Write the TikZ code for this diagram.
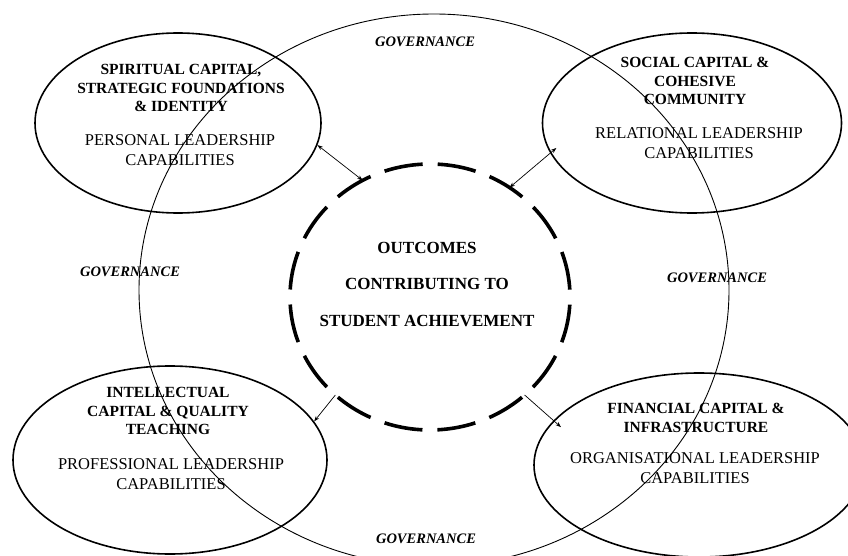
\documentclass[tikz,border=0pt]{standalone}
\usepackage{fontspec}
\setmainfont{Liberation Serif}
\usetikzlibrary{shapes.geometric, arrows.meta}

\begin{document}
\begin{tikzpicture}[x = 1pt, y = -1pt,
        capital/.style = {ellipse, draw, line width = 1.6pt, inner sep = 0pt},
        title/.style = {align = center, font = \bfseries\fontsize{15.5}{18.5}\selectfont},
        lead/.style = {align = center, font = \fontsize{16.5}{20.5}\selectfont},
        gov/.style = {font = \bfseries\itshape\fontsize{14.5}{17}\selectfont},
        link/.style = {line width = 0.7pt, {Stealth[length = 5.5pt, width = 4pt]}-{Stealth[length = 5.5pt, width = 4pt]}},
        outlink/.style = {line width = 0.7pt, -{Stealth[length = 5.5pt, width = 4pt]}}]

    \useasboundingbox (0, 0) rectangle (848, 556);

    % governance ring
    \node [ellipse, draw, line width = 0.9pt, inner sep = 0pt,
        minimum width = 590pt, minimum height = 552pt] (govring) at (434, 290) {};

    % the four capitals
    \node [capital, minimum width = 286pt, minimum height = 180pt] (spirit) at (178, 123) {};
    \node [capital, minimum width = 299pt, minimum height = 180pt] (social) at (692, 123) {};
    \node [capital, minimum width = 314pt, minimum height = 188pt] (intellect) at (170, 460) {};
    \node [capital, minimum width = 330pt, minimum height = 184pt] (finance) at (699, 465) {};

    % outcomes
    \node [ellipse, inner sep = 0pt, outer sep = 0pt,
        minimum width = 280pt, minimum height = 266pt] (outcomes) at (430, 297) {};
    \draw [line width = 3.6pt, dash pattern = on 38.6pt off 15pt]
        ([shift = {(93.1:140pt and 133pt)}]outcomes.center)
        arc [start angle = 93.1, end angle = 453.1, x radius = 140pt, y radius = 133pt];
    \node [align = center, font = \bfseries\fontsize{17}{36.5}\selectfont] (outtext) at (427, 284)
        {OUTCOMES\\ CONTRIBUTING TO\\ STUDENT ACHIEVEMENT};

    % texts
    \node [title] (spirittitle) at (181, 88) {SPIRITUAL CAPITAL,\\ STRATEGIC FOUNDATIONS\\ \& IDENTITY};
    \node [lead] (spiritlead) at (180, 150) {PERSONAL LEADERSHIP\\ CAPABILITIES};
    \node [title] (socialtitle) at (695, 81) {SOCIAL CAPITAL \&\\ COHESIVE\\ COMMUNITY};
    \node [lead] (sociallead) at (699, 143) {RELATIONAL LEADERSHIP\\ CAPABILITIES};
    \node [title] (intellecttitle) at (168, 411) {INTELLECTUAL\\ CAPITAL \& QUALITY\\ TEACHING};
    \node [lead] (intellectlead) at (171, 474) {PROFESSIONAL LEADERSHIP\\ CAPABILITIES};
    \node [title] (financetitle) at (696, 418) {FINANCIAL CAPITAL \&\\ INFRASTRUCTURE};
    \node [lead] (financelead) at (695, 468) {ORGANISATIONAL LEADERSHIP\\ CAPABILITIES};

    \node [gov] (govtop) at (425, 42) {GOVERNANCE};
    \node [gov] (govleft) at (130, 272) {GOVERNANCE};
    \node [gov] (govright) at (717, 278) {GOVERNANCE};
    \node [gov] (govbottom) at (426, 539) {GOVERNANCE};

    % links
    \draw [link] (spirit.-9) -- (outcomes.120);
    \draw [link, shorten <= -8pt] (social.192) -- (outcomes.54);
    \draw [outlink] (outcomes.226) -- (intellect.15);
    \draw [outlink, shorten >= -10pt] (outcomes.-46) -- (finance.163);
\end{tikzpicture}
\end{document}
